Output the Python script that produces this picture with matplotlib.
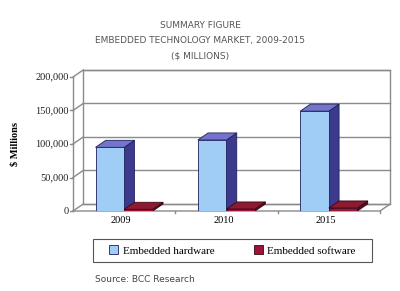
import matplotlib
matplotlib.use("Agg")
import matplotlib.pyplot as plt
from matplotlib.patches import Polygon, Rectangle

# data
years = ["2009", "2010", "2015"]
hardware = [95000, 106000, 149000]
software = [2500, 3000, 4500]
series_names = ["Embedded hardware", "Embedded software"]
y_ticks = [0, 50000, 100000, 150000, 200000]
y_tick_labels = ["0", "50,000", "100,000", "150,000", "200,000"]

title_lines = ["SUMMARY FIGURE", "EMBEDDED TECHNOLOGY MARKET, 2009-2015", "($ MILLIONS)"]
source_text = "Source: BCC Research"

# style
DX = 0.10      # depth offset along x (data units)
DY = 10500     # depth offset along y (data units)
BAR_W = 0.28
GRID = "#8a8a8a"
SERIF = ["Liberation Serif", "DejaVu Serif"]

hw_colors = {"front": "#9fcdf5", "side": "#3c3a8c", "top": "#7474cc", "edge": "#1f1f5a"}
sw_colors = {"front": "#9c1438", "side": "#5a0e22", "top": "#8c1a30", "edge": "#3a0614"}

fig = plt.figure(figsize=(4, 2.91), dpi=100)
ax = fig.add_axes([73 / 400, 1 - 211 / 291, 307 / 400, 134 / 291])
ax.set_xlim(-0.5, 2.5)
ax.set_ylim(0, 200000)
ax.axis("off")

x0, x1 = -0.5, 2.5
ymax = 200000

# back wall
ax.add_patch(Polygon([(x0 + DX, DY), (x1 + DX, DY), (x1 + DX, ymax + DY), (x0 + DX, ymax + DY)],
                     closed=True, facecolor="white", edgecolor=GRID, lw=1.0, clip_on=False, zorder=1))
for t, lab in zip(y_ticks, y_tick_labels):
    ax.plot([x0 + DX, x1 + DX], [t + DY, t + DY], color=GRID, lw=1.0, clip_on=False, zorder=1)
    ax.plot([x0, x0 + DX], [t, t + DY], color=GRID, lw=1.0, clip_on=False, zorder=1)
    ax.plot([x0 - 0.025, x0], [t, t], color=GRID, lw=1.0, clip_on=False, zorder=1)
    ax.text(x0 - 0.04, t, lab, ha="right", va="center",
            fontsize=7.5, family=SERIF, color="#222222")

# left axis and floor
ax.plot([x0, x0], [0, ymax], color=GRID, lw=1.0, clip_on=False, zorder=1)
ax.plot([x0, x1, x1 + DX], [0, 0, DY], color=GRID, lw=1.0, clip_on=False, zorder=1)
for b in [0.5, 1.5, 2.5]:
    ax.plot([b, b], [0, -3000], color=GRID, lw=1.0, clip_on=False, zorder=1)


def bar3d(xl, w, h, c):
    xr = xl + w
    ax.add_patch(Polygon([(xr, 0), (xr + DX, DY), (xr + DX, h + DY), (xr, h)],
                         closed=True, facecolor=c["side"], edgecolor=c["edge"], lw=0.6, zorder=3))
    ax.add_patch(Polygon([(xl, h), (xr, h), (xr + DX, h + DY), (xl + DX, h + DY)],
                         closed=True, facecolor=c["top"], edgecolor=c["edge"], lw=0.6, zorder=3))
    ax.add_patch(Rectangle((xl, 0), w, h, facecolor=c["front"], edgecolor=c["edge"], lw=0.6, zorder=3))


for i, yr in enumerate(years):
    bar3d(i - BAR_W, BAR_W, hardware[i], hw_colors)
    bar3d(i, BAR_W, software[i], sw_colors)
    ax.text(i - 0.03, -14000, yr, ha="center", va="center", fontsize=7.5, family=SERIF)

# y label
fig.text(15 / 400, 1 - 144 / 291, "$ Millions", rotation=90, ha="center", va="center",
         fontsize=7.5, family=SERIF, fontweight="bold")

# titles
for k, line in enumerate(title_lines):
    fig.text(0.5, 1 - (26 + 15 * k) / 291, line, ha="center", va="center",
             fontsize=6.5, color="#555555", family="DejaVu Sans")

# legend box + entries
fig.patches.append(Rectangle((93 / 400, 1 - 262 / 291), 279 / 400, 23 / 291, transform=fig.transFigure,
                             facecolor="white", edgecolor="#555555", lw=0.8))
handles = [Rectangle((0, 0), 1, 1, facecolor=hw_colors["front"], edgecolor=hw_colors["edge"], lw=0.6),
           Rectangle((0, 0), 1, 1, facecolor=sw_colors["front"], edgecolor=sw_colors["edge"], lw=0.6)]
fig.legend(handles, series_names, loc="center", ncol=2,
           bbox_to_anchor=(232.5 / 400, 1 - 250.5 / 291), frameon=False,
           handlelength=0.8, handleheight=0.8, handletextpad=0.4, columnspacing=3.6,
           prop={"family": SERIF, "size": 8})

fig.text(95 / 400, 1 - 280 / 291, source_text, ha="left", va="center", fontsize=6.5,
         color="#444444", family="DejaVu Sans")

fig.savefig("out.png", dpi=100)
